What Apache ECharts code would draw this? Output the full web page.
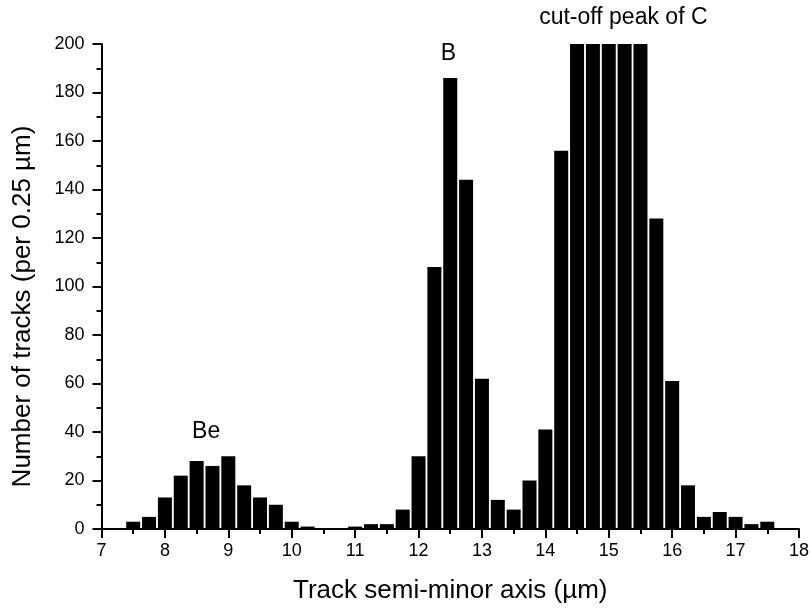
<!DOCTYPE html>
<html>
<head>
<meta charset="utf-8">
<title>Track semi-minor axis histogram</title>
<script src="https://cdn.jsdelivr.net/npm/echarts@6/dist/echarts.min.js"></script>
<style>
    html, body { margin: 0; padding: 0; background: #fff; }
    #chart { width: 812px; height: 609px; }
</style>
</head>
<body>
<div id="chart"></div>
<script>
// bin centres (um), one bin per 0.25 um
var binCenters = [7.5, 7.75, 8, 8.25, 8.5, 8.75, 9, 9.25, 9.5, 9.75,
    10, 10.25, 10.5, 10.75, 11, 11.25, 11.5, 11.75, 12, 12.25,
    12.5, 12.75, 13, 13.25, 13.5, 13.75, 14, 14.25, 14.5, 14.75,
    15, 15.25, 15.5, 15.75, 16, 16.25, 16.5, 16.75, 17, 17.25, 17.5];
// counts, C peak is cut off at 200
var trackCounts = [3, 5, 13, 22, 28, 26, 30, 18, 13, 10,
    3, 1, 0, 0, 1, 2, 2, 8, 30, 108,
    186, 144, 62, 12, 8, 20, 41, 156, 200, 200,
    200, 200, 200, 128, 61, 18, 5, 7, 5, 2, 3];

var peakLabels = ['Be', 'B', 'cut-off peak of C'];
var peakLabelX = [8.65, 12.47, 15.23];
var peakLabelY = [40, 196, 211];

var xTicks = [7, 18, 1];   // min, max, step
var yTicks = [0, 200, 20];

var fontFamily = '"Liberation Sans", Arial, sans-serif';

var chart = echarts.init(document.getElementById('chart'));

var barData = binCenters.map(function (x, i) { return [x, trackCounts[i]]; });

var axisLine = { show: true, onZero: false, lineStyle: { color: '#000', width: 2 } };

chart.setOption({
    animation: false,
    backgroundColor: '#fff',
    textStyle: { fontFamily: fontFamily },
    grid: { left: 101.5, right: 10.5, top: 44, bottom: 79 },
    xAxis: {
        type: 'value',
        min: xTicks[0], max: xTicks[1], interval: xTicks[2],
        name: 'Track semi-minor axis (\u00b5m)',
        nameLocation: 'middle',
        nameGap: 49,
        nameTextStyle: { color: '#000', fontSize: 26, fontFamily: fontFamily },
        axisLine: axisLine,
        axisTick: { show: true, inside: false, length: 9, lineStyle: { color: '#000', width: 2 } },
        minorTick: { show: true, splitNumber: 2, length: 5, lineStyle: { color: '#000', width: 2 } },
        axisLabel: { color: '#000', fontSize: 18, margin: 13, fontFamily: fontFamily },
        splitLine: { show: false }
    },
    yAxis: {
        type: 'value',
        min: yTicks[0], max: yTicks[1], interval: yTicks[2],
        name: 'Number of tracks (per 0.25 \u00b5m)',
        nameLocation: 'middle',
        nameGap: 66,
        nameTextStyle: { color: '#000', fontSize: 26, fontFamily: fontFamily, padding: [0, 40, 0, 0] },
        axisLine: axisLine,
        axisTick: { show: true, inside: false, length: 9, lineStyle: { color: '#000', width: 2 } },
        minorTick: { show: true, splitNumber: 2, length: 5, lineStyle: { color: '#000', width: 2 } },
        axisLabel: { color: '#000', fontSize: 18, margin: 17, fontFamily: fontFamily },
        splitLine: { show: false }
    },
    series: [{
        type: 'bar',
        data: barData,
        barWidth: 14,
        itemStyle: { color: '#000' }
    }]
});

// peak annotations, placed from data coordinates
var labelElements = peakLabels.map(function (text, i) {
    var pos = chart.convertToPixel({ gridIndex: 0 }, [peakLabelX[i], peakLabelY[i]]);
    return {
        type: 'text',
        x: pos[0],
        y: pos[1],
        style: {
            text: text,
            fill: '#000',
            font: '23px ' + fontFamily,
            align: 'center',
            verticalAlign: 'middle'
        }
    };
});
chart.setOption({ graphic: labelElements });
</script>
</body>
</html>
